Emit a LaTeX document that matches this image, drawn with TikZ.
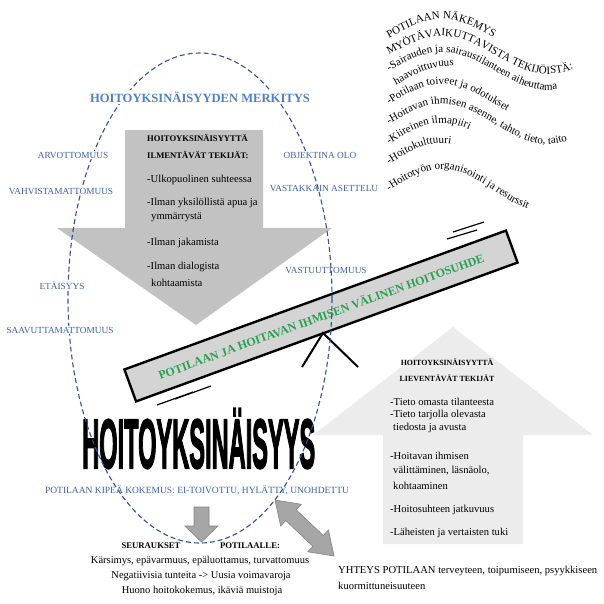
\documentclass[tikz,border=0pt]{standalone}
\usepackage{fontspec}
\usepackage{graphicx}
\setmainfont{Liberation Serif}
\newfontfamily\bigsans[BoldFeatures={FakeBold=3}]{Liberation Sans}
\usetikzlibrary{decorations.text}
\definecolor{upgray}{RGB}{236,236,236}
\definecolor{downgray}{RGB}{194,194,194}
\definecolor{bargray}{RGB}{212,212,212}
\definecolor{smallgray}{RGB}{166,166,166}
\definecolor{smalledge}{RGB}{130,130,130}
\definecolor{titleblue}{RGB}{79,129,199}
\definecolor{labelblue}{RGB}{62,96,170}
\definecolor{ellblue}{RGB}{50,80,160}
\definecolor{bargreen}{RGB}{40,160,85}
\newcommand\wavefont{\fontsize{11}{13}\selectfont}
% #1 start x, #2 midline y, #3 amplitude, #4 text
\newcommand\wavyline[4]{%
  \path[decorate, decoration={text along path, text align=left, text={|\wavefont|#4}}]
    plot[variable=\t, domain=0:225, samples=76] ({#1+\t},{#2-#3*sin(1.6981*\t)});}
\begin{document}
\begin{tikzpicture}[x=1pt,y=-1pt,
  lab/.style={text=labelblue, font=\fontsize{9.3}{11}\selectfont, inner sep=1pt},
  labw/.style={lab, fill=white},
  item/.style={anchor=west, inner sep=0, font=\fontsize{10.6}{12}\selectfont},
  head/.style={anchor=west, inner sep=0, font=\bfseries\fontsize{8.6}{10}\selectfont},
  uphead/.style={inner sep=0, font=\bfseries\fontsize{7.9}{10}\selectfont},
  btext/.style={inner sep=0, font=\fontsize{10.5}{12}\selectfont},
  barbox/.style={draw=black, line width=2.4pt, fill=bargray, rotate=20,
    minimum width=406pt, minimum height=34pt, inner sep=0, text=bargreen,
    font=\bfseries\fontsize{12}{14}\selectfont},
  blockarrow/.style={fill=smallgray, draw=smalledge, line width=0.6pt}]
\useasboundingbox (0,0) rectangle (604,603);

% big block arrows
\fill[upgray] (453,327) -- (593,435) -- (523,435) -- (523,544) -- (383,544) -- (383,435) -- (313,435) -- cycle;
\fill[downgray] (125,130) -- (263,130) -- (263,228) -- (332,228) -- (196,325) -- (57,228) -- (125,228) -- cycle;

% seesaw bar
\node[barbox] (bar) at (321,316) {POTILAAN JA HOITAVAN IHMISEN VÄLINEN HOITOSUHDE};
\coordinate (apex) at (323,333);
\coordinate (legL) at (302,367);
\coordinate (legR) at (358,367);
\draw[line width=2pt] (legL) -- (apex) -- (legR);
% motion lines
\coordinate (m1a) at (157,405); \coordinate (m1b) at (193,392);
\coordinate (m2a) at (175,399); \coordinate (m2b) at (211,386);
\coordinate (m3a) at (447,239); \coordinate (m3b) at (477,230);
\coordinate (m4a) at (453,232); \coordinate (m4b) at (484,222);
\draw[line width=1.2pt] (m1a) -- (m1b) (m2a) -- (m2b) (m3a) -- (m3b) (m4a) -- (m4b);

% big word
\node[anchor=base west, inner sep=0] (bigword) at (82,468)
  {\scalebox{2.36}[6.98]{\bigsans\bfseries\fontsize{10}{12}\selectfont HOITOYKSINÄISYYS}};

% dashed ellipse
\draw[ellblue, dash pattern=on 5pt off 3pt, line width=1.1pt] (200,298) ellipse [x radius=132, y radius=245];

% title
\node[fill=white, inner sep=2pt, text=titleblue, font=\bfseries\fontsize{12.6}{14}\selectfont] (title) at (200,97) {HOITOYKSINÄISYYDEN MERKITYS};

% left labels
\node[labw] (arv) at (73,155) {ARVOTTOMUUS};
\node[labw] (vahv) at (61,191) {VAHVISTAMATTOMUUS};
\node[labw] (eta) at (62,286) {ETÄISYYS};
\node[labw] (saav) at (60,330) {SAAVUTTAMATTOMUUS};
% right labels
\node[labw] (obj) at (320,155) {OBJEKTINA OLO};
\node[lab] (vast) at (324,188) {VASTAKKAIN ASETTELU};
\node[lab] (vastuu) at (326,270) {VASTUUTTOMUUS};

% down arrow text
\node[head] (dh1) at (147,138) {HOITOYKSINÄISYYTTÄ};
\node[head] (dh2) at (147,155) {ILMENTÄVÄT TEKIJÄT:};
\node[item] (d1) at (147,180) {-Ulkopuolinen suhteessa};
\node[item] (d2) at (147,203) {-Ilman yksilöllistä apua ja};
\node[item] (d3) at (151,217) {ymmärrystä};
\node[item] (d4) at (147,243) {-Ilman jakamista};
\node[item] (d5) at (147,267) {-Ilman dialogista};
\node[item] (d6) at (151,283) {kohtaamista};

% up arrow text
\node[uphead] (uh1) at (447,362) {HOITOYKSINÄISYYTTÄ};
\node[uphead] (uh2) at (447,378) {LIEVENTÄVÄT TEKIJÄT};
\node[item] (u1) at (390,402) {-Tieto omasta tilanteesta};
\node[item] (u2) at (390,415) {-Tieto tarjolla olevasta};
\node[item] (u3) at (393,428) {tiedosta ja avusta};
\node[item] (u4) at (390,456) {-Hoitavan ihmisen};
\node[item] (u5) at (393,471) {välittäminen, läsnäolo,};
\node[item] (u6) at (393,486) {kohtaaminen};
\node[item] (u7) at (390,510) {-Hoitosuhteen jatkuvuus};
\node[item] (u8) at (390,533) {-Läheisten ja vertaisten tuki};

% experience line
\node[inner sep=1pt, text=labelblue, font=\fontsize{9.5}{11}\selectfont] (kipea) at (197,490) {POTILAAN KIPEÄ KOKEMUS: EI-TOIVOTTU, HYLÄTTY, UNOHDETTU};

% small arrows
\fill[blockarrow] (194,507) -- (209,507) -- (209,526) -- (218,526) -- (201.5,542) -- (185,526) -- (194,526) -- cycle;
\coordinate (dblA) at (275,500);
\coordinate (dblB) at (334,556);
\begin{scope}[shift={(dblA)}, rotate=-43.5]
  \fill[blockarrow] (0,0) -- (22,15) -- (22,7.5) -- (59.4,7.5) -- (59.4,15) -- (81.4,0)
    -- (59.4,-15) -- (59.4,-7.5) -- (22,-7.5) -- (22,-15) -- cycle;
\end{scope}

% consequences
\node[inner sep=0, font=\bfseries\fontsize{8.7}{10}\selectfont] (seur) at (151,546) {SEURAUKSET};
\node[inner sep=0, font=\bfseries\fontsize{8.7}{10}\selectfont] (pot) at (250,546) {POTILAALLE:};
\node[btext] (c1) at (200,561) {Kärsimys, epävarmuus, epäluottamus, turvattomuus};
\node[btext] (c2) at (201,576) {Negatiivisia tunteita -> Uusia voimavaroja};
\node[btext] (c3) at (202,591) {Huono hoitokokemus, ikäviä muistoja};

% connection text
\node[item] (y1) at (338,571) {YHTEYS POTILAAN terveyteen, toipumiseen, psyykkiseen};
\node[item] (y2) at (338,586) {kuormittuneisuuteen};

% wavy text
\wavyline{389}{38}{19}{POTILAAN NÄKEMYS}
\wavyline{389}{55}{19}{MYÖTÄVAIKUTTAVISTA TEKIJÖISTÄ:}
\wavyline{389}{71}{19}{-Sairauden ja sairaustilanteen aiheuttama}
\wavyline{396}{85}{19}{haavoittuvuus}
\wavyline{389}{104}{20}{-Potilaan toiveet ja odotukset}
\wavyline{389}{124}{20}{-Hoitavan ihmisen asenne, tahto, tieto, taito}
\wavyline{389}{144}{21}{-Kiireinen ilmapiiri}
\wavyline{389}{164}{21}{-Hoitokulttuuri}
\wavyline{389}{191}{22}{-Hoitotyön organisointi ja resurssit}
\end{tikzpicture}
\end{document}
